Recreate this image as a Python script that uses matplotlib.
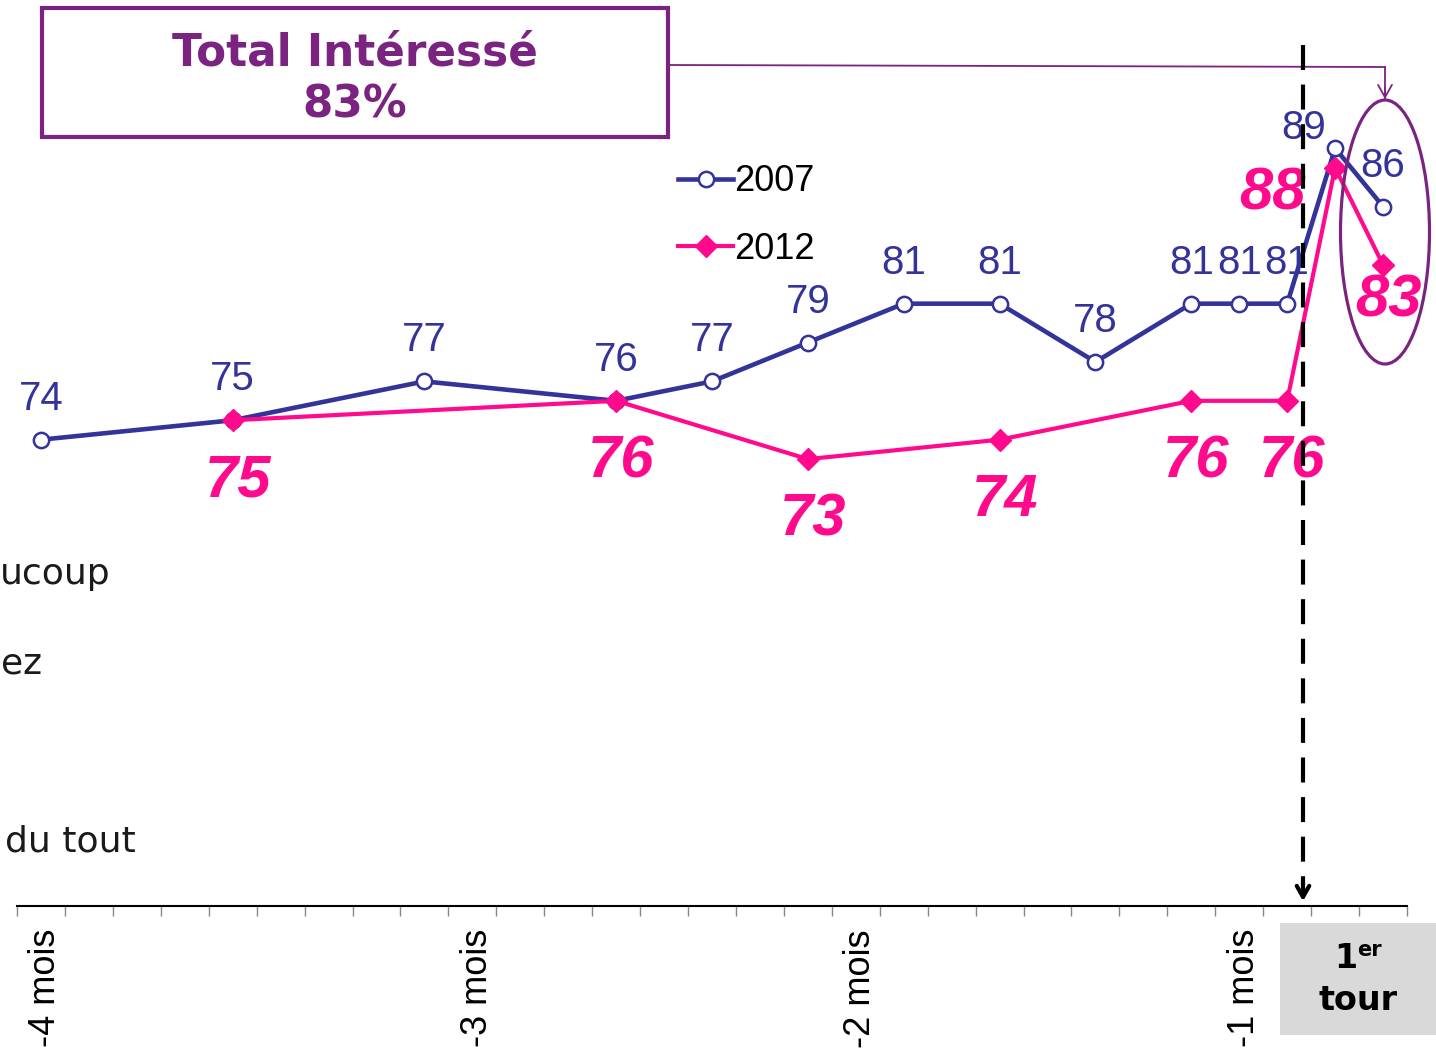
import numpy as np
import matplotlib.pyplot as plt
from matplotlib.patches import Rectangle, Ellipse

# 29 categories along x, only a few carry a tick label
n_cat = 29
x_labels = {0: '-4 mois', 9: '-3 mois', 17: '-2 mois', 25: '-1 mois'}

x_2007 = [0, 4, 8, 12, 14, 16, 18, 20, 22, 24, 25, 26, 27, 28]
v_2007 = [74, 75, 77, 76, 77, 79, 81, 81, 78, 81, 81, 81, 89, 86]

x_2012 = [4, 12, 16, 20, 24, 26, 27, 28]
v_2012 = [75, 76, 73, 74, 76, 76, 88, 83]

blue = '#333399'
pink = '#FF0A8C'
purple = '#7B2381'

W, H = 1436, 1048
PT = 0.72  # points per pixel at dpi 100


def fp(x, y):
    # pixel (from top-left) -> figure fraction
    return (x / W, 1 - y / H)


fig = plt.figure(figsize=(W / 100, H / 100), dpi=100)
ax = fig.add_axes([17 / W, 142 / H, 1390 / W, 906 / H])
ax.set_xlim(-0.5, n_cat - 0.5)
ax.set_ylim(50, 50 + 906 / 19.43)

for s in ['top', 'left', 'right']:
    ax.spines[s].set_visible(False)
ax.spines['bottom'].set_linewidth(1.5)
ax.set_yticks([])
ax.set_xticks(np.arange(-0.5, n_cat, 1))
ax.set_xticklabels([])
ax.tick_params(axis='x', direction='out', length=7.5, width=1, color='#888888')

ax.plot(x_2007, v_2007, color=blue, lw=3.3, marker='o', ms=11, mfc='white',
        mec=blue, mew=1.8, label='2007', zorder=3)
ax.plot(x_2012, v_2012, color=pink, lw=3, marker='D', ms=11.5, mfc=pink,
        mec=pink, label='2012', zorder=4)

# data labels 2007
for xi, vi in zip(x_2007, v_2007):
    dx, dy = 0, 41
    if vi == 89:
        dx, dy = -31, 20
    ax.annotate(str(vi), (xi, vi), xytext=(dx * PT, dy * PT), textcoords='offset points',
                ha='center', va='center', fontsize=29, color=blue,
                family='Liberation Sans', zorder=5)

# data labels 2012
for xi, vi in zip(x_2012, v_2012):
    dx, dy = 5, -61
    if vi == 88:
        dx, dy = -63, -26
    elif vi == 83:
        dx, dy = 5, -36
    ax.annotate(str(vi), (xi, vi), xytext=(dx * PT, dy * PT), textcoords='offset points',
                ha='center', va='center', fontsize=43, color=pink, fontweight='bold',
                style='italic', family='Liberation Sans', zorder=5)

# x labels, rotated
for xi, lab in x_labels.items():
    ax.text(xi + 0.1, 50 - 23 / 19.43, lab, rotation=90, ha='center', va='top',
            fontsize=26, family='Liberation Sans')

# legend
leg = ax.legend(loc='upper left', bbox_to_anchor=fp(664, 150), bbox_transform=fig.transFigure,
                frameon=False, handlelength=1.5, handletextpad=0.05,
                labelspacing=0.9, borderaxespad=0, prop={'family': 'Liberation Sans', 'size': 26})

# "1er tour" box
fig.patches.append(Rectangle(fp(1280, 1035), 156 / W, 112 / H, transform=fig.transFigure,
                             facecolor='#D9D9D9', edgecolor='none', zorder=0))
fig.text(*fp(1346, 968), '1', ha='center', va='baseline', fontsize=24, fontweight='bold')
fig.text(*fp(1357, 956), 'er', ha='left', va='baseline', fontsize=15, fontweight='bold')
fig.text(*fp(1358, 1010), 'tour', ha='center', va='baseline', fontsize=24, fontweight='bold')

# Total intéressé box
fig.patches.append(Rectangle(fp(42, 137), 626 / W, 129 / H, transform=fig.transFigure,
                             facecolor='white', edgecolor=purple, lw=3, zorder=2))
fig.text(*fp(355, 66), 'Total Intéressé', ha='center', va='baseline', fontsize=31.5,
         fontweight='bold', color=purple, family='DejaVu Sans', zorder=3)
fig.text(*fp(355, 117), '83%', ha='center', va='baseline', fontsize=31.5,
         fontweight='bold', color=purple, family='DejaVu Sans', zorder=3)

# connector from box to ellipse
fig.lines.append(plt.Line2D([668 / W, 1385 / W], [1 - 65 / H, 1 - 67 / H],
                            transform=fig.transFigure, color=purple, lw=1.3))
fig.lines.append(plt.Line2D([1385 / W, 1385 / W], [1 - 67 / H, 1 - 98 / H],
                            transform=fig.transFigure, color=purple, lw=1.3))
ax.annotate('', xy=fp(1385, 102), xytext=fp(1385, 85), xycoords='figure fraction',
            textcoords='figure fraction',
            arrowprops=dict(arrowstyle='->,head_length=0.9,head_width=0.5', color=purple, lw=1.3))

# ellipse round the last points
fig.patches.append(Ellipse(fp(1385, 232), 89 / W, 264 / H, transform=fig.transFigure,
                           facecolor='none', edgecolor=purple, lw=2.3, zorder=6))

# dashed vertical line with arrow (1st round)
fig.lines.append(plt.Line2D([1303 / W, 1303 / W], [1 - 45 / H, 1 - 885 / H],
                            transform=fig.transFigure, color='black', lw=3,
                            dashes=(6, 3.5), zorder=7))
ax.annotate('', xy=fp(1303, 904), xytext=fp(1303, 880), xycoords='figure fraction',
            textcoords='figure fraction',
            arrowprops=dict(arrowstyle='->,head_length=0.8,head_width=0.45', color='black', lw=3))

# leftovers of the other chart's labels
txt_col = '#1a1a1a'
fig.text(*fp(0, 584), 'ucoup', ha='left', va='baseline', fontsize=26, color=txt_col)
fig.text(*fp(1, 674), 'ez', ha='left', va='baseline', fontsize=26, color=txt_col)
fig.text(*fp(5, 851), 'du tout', ha='left', va='baseline', fontsize=26, color=txt_col)

fig.savefig('out.png', dpi=100)
